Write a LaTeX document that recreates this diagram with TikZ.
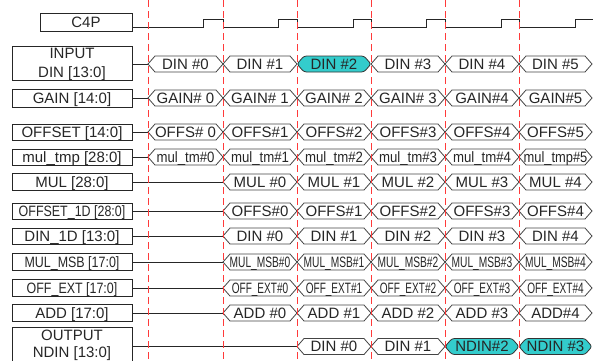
\documentclass[tikz,border=0pt]{standalone}
\usepackage{fontspec}
\setmainfont{Liberation Sans}
\usepackage{graphicx}
\definecolor{txt}{HTML}{262626}
\definecolor{segc}{HTML}{444444}
\definecolor{cyanf}{HTML}{33CCCC}
\definecolor{guide}{HTML}{FF3A3A}
\newcommand\sq[2]{\scalebox{#1}[1]{#2}}
\tikzset{
  lblbox/.style={draw=black!85, line width=0.8pt, inner sep=0pt, minimum width=120pt},
  lbl/.style={lblbox, text=txt, font=\fontsize{15}{17}\selectfont, text height=10.75pt, text depth=0pt},
  segline/.style={draw=segc, line width=0.8pt, fill=white},
  hotseg/.style={draw=black!80, line width=0.8pt, fill=cyanf, rounded corners=2.5pt},
  segtext/.style={inner sep=0pt, text=txt, font=\fontsize{15}{17}\selectfont, text height=10.75pt, text depth=0pt},
  lead/.style={draw=black!85, line width=0.8pt},
  guideline/.style={draw=guide, line width=1pt, dash pattern=on 7pt off 4pt},
  clk/.style={draw=black!85, line width=0.8pt},
}
\newcommand\busseg[6][segline]{%
  \draw[#1] (#2,#4) -- (#2+7,#4-8) -- (#3-7,#4-8) -- (#3,#4) -- (#3-7,#4+8) -- (#2+7,#4+8) -- cycle;
  \node[segtext] (#6) at ({(#2+#3)/2},#4) {#5};}
\newcommand\busrow[3]{\foreach \a/\b/\t [count=\i] in {#3}{\busseg{\a}{\b}{#2}{\t}{#1\i}}}
\begin{document}
\begin{tikzpicture}[x=1pt,y=-1pt]
\useasboundingbox (0,0) rectangle (600,360);
\fill[white] (0,0) rectangle (600,360);

% label boxes
\node[lbl, minimum width=92pt, minimum height=18pt] (c4p) at (86,22) {C4P};
\node[lblbox, minimum height=34pt] (inbox) at (72,63) {};
\node[segtext] (inT1) at (72,53) {INPUT};
\node[segtext] (inT2) at (72,72) {DIN [13:0]};
\node[lbl, minimum height=18pt] (gain) at (72,98) {GAIN [14:0]};
\node[lbl, minimum height=16pt] (offset) at (72,132) {OFFSET [14:0]};
\node[lbl, minimum height=16pt] (multmp) at (72,157) {mul\_tmp [28:0]};
\node[lbl, minimum height=17pt] (mul) at (72,182) {MUL [28:0]};
\node[lbl, minimum height=16pt] (offod) at (72,211) {\sq{0.83}{OFFSET\_1D [28:0]}};
\node[lbl, minimum height=16pt] (dinod) at (72,236) {DIN\_1D [13:0]};
\node[lbl, minimum height=17pt] (mulmsb) at (72,262) {\sq{0.83}{MUL\_MSB [17:0]}};
\node[lbl, minimum height=17pt] (offext) at (72,288) {\sq{0.83}{OFF\_EXT [17:0]}};
\node[lbl, minimum height=17pt] (add) at (72,313) {ADD [17:0]};
\node[lblbox, minimum height=35pt] (outbox) at (72,344.5) {};
\node[segtext] (outT1) at (72,335) {OUTPUT};
\node[segtext] (outT2) at (72,352.5) {NDIN [13:0]};

% clock
\draw[clk] (c4p.east |- 0,27) -- (203,27) -- (203,19) -- (223,19) -- (223,27)
  -- (278,27) -- (278,19) -- (297,19) -- (297,27)
  -- (353,27) -- (353,19) -- (371,19) -- (371,27)
  -- (426,27) -- (426,19) -- (445,19) -- (445,27)
  -- (501,27) -- (501,19) -- (519,19) -- (519,27)
  -- (575,27) -- (575,19) -- (593,19);

% leader lines
\draw[lead] (inbox.east |- 0,64) -- (148,64);
\draw[lead] (gain.east) -- (148,98);
\draw[lead] (offset.east) -- (148,132);
\draw[lead] (multmp.east) -- (148,157);
\draw[lead] (mul.east) -- (223,182);
\draw[lead] (offod.east) -- (223,211);
\draw[lead] (dinod.east) -- (223,236);
\draw[lead] (mulmsb.east) -- (223,262);
\draw[lead] (offext.east) -- (223,288);
\draw[lead] (add.east) -- (223,313);
\draw[lead] (outbox.east |- 0,346.5) -- (297,346.5);

% bus rows
\busrow{din}{64}{148/223/{DIN \#0}, 223/297/{DIN \#1}, 371/445/{DIN \#3}, 445/519/{DIN \#4}, 519/592/{DIN \#5}}
\busseg[hotseg]{297}{371}{64}{DIN \#2}{dinhot}
\busrow{gain}{98}{148/223/{GAIN\# 0}, 223/297/{GAIN\# 1}, 297/371/{GAIN\# 2}, 371/445/{GAIN\# 3}, 445/519/{GAIN\#4}, 519/592/{GAIN\#5}}
\busrow{offs}{132}{148/223/{OFFS\# 0}, 223/297/{OFFS\#1}, 297/371/{OFFS\#2}, 371/445/{OFFS\#3}, 445/519/{OFFS\#4}, 519/592/{OFFS\#5}}
\busrow{mt}{157}{148/223/{\sq{0.88}{mul\_tm\#0}}, 223/297/{\sq{0.88}{mul\_tm\#1}}, 297/371/{\sq{0.88}{mul\_tm\#2}}, 371/445/{\sq{0.88}{mul\_tm\#3}}, 445/519/{\sq{0.88}{mul\_tm\#4}}, 519/592/{\sq{0.86}{mul\_tmp\#5}}}
\busrow{mu}{182}{223/297/{MUL \#0}, 297/371/{MUL \#1}, 371/445/{MUL \#2}, 445/519/{MUL \#3}, 519/592/{MUL \#4}}
\busrow{ood}{211}{223/297/{OFFS\#0}, 297/371/{OFFS\#1}, 371/445/{OFFS\#2}, 445/519/{OFFS\#3}, 519/592/{OFFS\#4}}
\busrow{dod}{236}{223/297/{DIN \#0}, 297/371/{DIN \#1}, 371/445/{DIN \#2}, 445/519/{DIN \#3}, 519/592/{DIN \#4}}
\busrow{msb}{262}{223/297/{\sq{0.68}{MUL\_MSB\#0}}, 297/371/{\sq{0.68}{MUL\_MSB\#1}}, 371/445/{\sq{0.68}{MUL\_MSB\#2}}, 445/519/{\sq{0.68}{MUL\_MSB\#3}}, 519/592/{\sq{0.68}{MUL\_MSB\#4}}}
\busrow{ext}{288}{223/297/{\sq{0.67}{OFF\_EXT\#0}}, 297/371/{\sq{0.67}{OFF\_EXT\#1}}, 371/445/{\sq{0.67}{OFF\_EXT\#2}}, 445/519/{\sq{0.67}{OFF\_EXT\#3}}, 519/592/{\sq{0.67}{OFF\_EXT\#4}}}
\busrow{ad}{313}{223/297/{ADD \#0}, 297/371/{ADD \#1}, 371/445/{ADD \#2}, 445/519/{ADD \#3}, 519/592/{ADD\#4}}
\busrow{nd}{346.5}{297/371/{DIN \#0}, 371/445/{DIN \#1}}
\busseg[hotseg]{445}{519}{346.5}{NDIN\#2}{ndhot2}
\busseg[hotseg]{519}{592}{346.5}{NDIN \#3}{ndhot3}

% guide lines
\foreach \g in {148,223,297,371,445,519} \draw[guideline] (\g,0) -- (\g,360);
\end{tikzpicture}
\end{document}
